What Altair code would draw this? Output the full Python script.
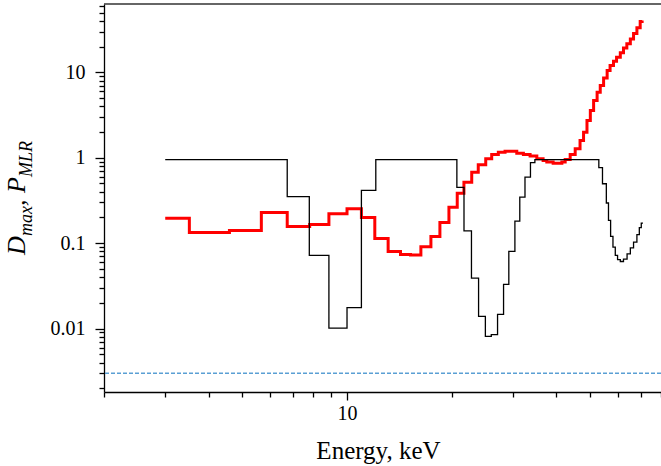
import altair as alt
import pandas as pd

# ---- data ----
black_E = [3.0, 6.73, 7.79, 8.87, 10.0, 11.0, 12.1, 20.7, 21.7, 22.8,
           23.9, 25.0, 26.0, 27.1, 28.2, 29.2, 30.4, 31.4, 32.5, 33.7,
           34.7, 53.0, 54.3, 55.7, 56.5, 57.3, 58.2, 59.1, 60.0, 61.1,
           62.4, 63.9, 65.3, 66.7, 68.2, 69.3, 70.2, 71.0]
black_V = [0.95, 0.35, 0.072, 0.0101, 0.0176, 0.415, 0.95, 0.45, 0.139, 0.039,
           0.0139, 0.0081, 0.0085, 0.0147, 0.033, 0.080, 0.181, 0.346, 0.593, 0.874,
           0.95, 0.764, 0.496, 0.295, 0.185, 0.12, 0.09, 0.072, 0.064, 0.061,
           0.065, 0.075, 0.088, 0.103, 0.126, 0.152, 0.172, 0.172]

red_E = [3.0, 3.52, 4.59, 5.67, 6.73, 7.81, 8.87, 10.0, 11.0, 12.02,
         13.13, 14.25, 15.23, 16.31, 17.43, 18.50, 19.64, 20.75, 21.69, 22.84,
         23.85, 25.06, 26.07, 27.24, 28.48, 29.43, 30.78, 32.16, 33.62, 35.15,
         36.64, 37.55, 39.16, 40.13, 41.49, 42.41, 43.84, 45.32, 46.8, 47.9,
         49.0, 50.1, 51.2, 52.4, 53.5, 54.7, 56.0, 57.1, 58.4, 59.6,
         61.1, 62.4, 63.8, 65.3, 66.7, 68.2, 69.7, 70.6]
red_V = [0.195, 0.133, 0.141, 0.229, 0.157, 0.165, 0.221, 0.253, 0.199, 0.113,
         0.080, 0.0735, 0.0725, 0.091, 0.12, 0.175, 0.264, 0.385, 0.518, 0.678,
         0.828, 0.973, 1.09, 1.16, 1.19, 1.19, 1.13, 1.09, 1.05, 0.97,
         0.93, 0.89, 0.86, 0.86, 0.89, 0.95, 1.09, 1.27, 1.59, 1.99,
         2.73, 3.57, 4.68, 5.85, 7.0, 8.6, 10.5, 12.0, 13.5, 15.0,
         16.9, 19.2, 21.6, 24.6, 28.4, 33.2, 39.2, 40.5]

threshold = [0.003]

x_ticks = [2, 3, 4, 5, 6, 7, 8, 9, 10, 20, 30, 40, 50, 60, 70, 80]
y_ticks = [0.002, 0.003, 0.004, 0.005, 0.006, 0.007, 0.008, 0.009,
           0.01, 0.02, 0.03, 0.04, 0.05, 0.06, 0.07, 0.08, 0.09,
           0.1, 0.2, 0.3, 0.4, 0.5, 0.6, 0.7, 0.8, 0.9,
           1, 2, 3, 4, 5, 6, 7, 8, 9,
           10, 20, 30, 40, 50, 60]

# ---- layout ----
W, H = 557, 388
FONT = "Liberation Serif"

xs = alt.Scale(type="log", domain=[2, 80], nice=False)
ys = alt.Scale(type="log", domain=[0.00181, 63], nice=False)

x_axis = alt.Axis(
    values=x_ticks, title="Energy, keV",
    labelExpr="datum.value == 10 ? '10' : ''",
    tickSize={"condition": {"test": "datum.value == 10", "value": 8}, "value": 5},
    grid=False, domainColor="black", tickColor="black", tickWidth=1.3,
    domainWidth=1.3,
    labelFont=FONT, labelFontSize=20, labelColor="black", labelPadding=3,
    labelOverlap=False, labelFlush=False,
    titleFont=FONT, titleFontSize=25, titleFontWeight="normal",
    titleColor="black", titlePadding=15, titleX=274,
)
y_axis = alt.Axis(
    values=y_ticks, title=None,
    labelExpr=("datum.value == 10 ? '10' : datum.value == 1 ? '1' : "
               "datum.value == 0.1 ? '0.1' : datum.value == 0.01 ? '0.01' : ''"),
    tickSize={"condition": {"test": "datum.value == 10 || datum.value == 1 || "
                                    "datum.value == 0.1 || datum.value == 0.01",
                            "value": 9}, "value": 5},
    grid=False, domainColor="black", tickColor="black", tickWidth=1.3,
    domainWidth=1.3,
    labelFont=FONT, labelFontSize=20, labelColor="black", labelPadding=10,
    labelOverlap=False, labelFlush=False,
)

black_df = pd.DataFrame({"E": black_E, "V": black_V})
red_df = pd.DataFrame({"E": red_E, "V": red_V})
thr_df = pd.DataFrame({"V": threshold})

red = alt.Chart(red_df).mark_line(
    interpolate="step-after", color="#ff0000", strokeWidth=3
).encode(
    x=alt.X("E:Q", scale=xs, axis=x_axis),
    y=alt.Y("V:Q", scale=ys, axis=y_axis),
)
black = alt.Chart(black_df).mark_line(
    interpolate="step-after", color="black", strokeWidth=1.3
).encode(
    x=alt.X("E:Q", scale=xs, axis=x_axis),
    y=alt.Y("V:Q", scale=ys, axis=y_axis),
)
thr = alt.Chart(thr_df).mark_rule(
    color="#5a9fd4", strokeDash=[4, 2], strokeWidth=1.4
).encode(y=alt.Y("V:Q", scale=ys, axis=y_axis))

top = alt.Chart(pd.DataFrame({"a": [0]})).mark_rule(
    color="#333333", strokeWidth=1.3
).encode(x=alt.value(0), x2=alt.value(W), y=alt.value(0))

# y-axis title with subscripts, built from rotated text pieces
def piece(txt, size, xpx, ypx):
    return alt.Chart(pd.DataFrame({"t": [txt]})).mark_text(
        font=FONT, fontSize=size, fontStyle="italic", angle=270,
        align="left", baseline="alphabetic", color="black"
    ).encode(text="t:N", x=alt.value(xpx), y=alt.value(ypx))

title_parts = [
    piece("D", 26, -79, 251),
    piece("max", 18, -72, 232),
    piece(", P", 26, -79, 202),
    piece("MLR", 18, -72, 173),
]

chart = alt.layer(thr, red, black, top, *title_parts).properties(
    width=W, height=H,
    padding={"left": 104, "top": 4, "right": 0, "bottom": 74},
    autosize=alt.AutoSizeParams(type="none"),
    background="white",
).configure_view(stroke=None)

chart.save("out.html", embed_options={"renderer": "svg", "actions": False})
